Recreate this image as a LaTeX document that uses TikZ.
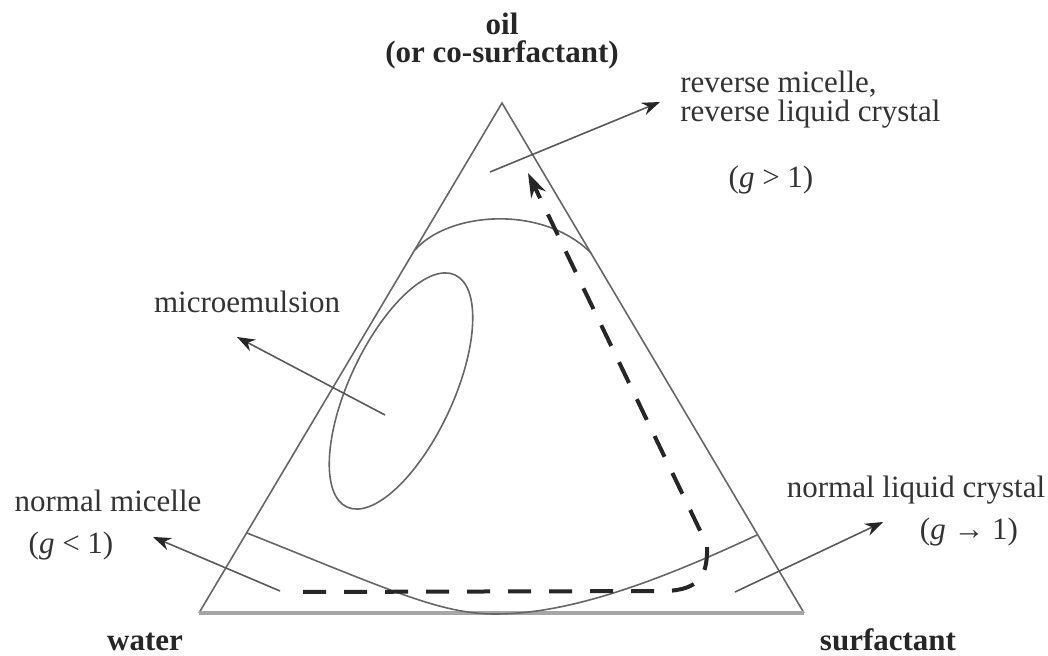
\documentclass[tikz,border=0pt]{standalone}
\usepackage{fontspec}
\setmainfont{Liberation Serif}
\usetikzlibrary{arrows.meta,positioning}

\begin{document}
\begin{tikzpicture}[
    x=0.5pt, y=-0.5pt,
    edge/.style={draw=black!60, line width=0.8pt},
    baseedge/.style={draw=black!35, line width=2pt},
    arrow/.style={-{Stealth[length=9pt,width=6.5pt,color=black!85]}, draw=black!65, line width=0.8pt},
    dasharrow/.style={-{Stealth[length=12pt,width=8pt]}, line width=2pt, dash pattern=on 11.5pt off 9pt, draw=black!85},
    txt/.style={font=\fontsize{15.5}{18}\selectfont, text=black!80, inner sep=0pt},
    corner/.style={font=\bfseries\fontsize{15.5}{18}\selectfont, text=black!85, inner sep=0pt},
]
\useasboundingbox (0,0) rectangle (1048,656);

% === TRIANGLE ===
\coordinate (O) at (502,103);
\coordinate (W) at (199,613);
\coordinate (S) at (804,613);
\draw[edge] (W) -- (O) -- (S);
\draw[baseedge] (W) -- (S);

% === PHASE BOUNDARIES ===
\draw[edge] (415,250) .. controls (448,212) and (542,204) .. (591,253);
\draw[edge] (247,533) .. controls (390,590) and (440,614) .. (495,614) .. controls (560,614) and (640,590) .. (757,535);
\draw[edge, rotate around={65:(401,391)}] (401,391) ellipse [x radius=64pt, y radius=26pt];

% === PATH ===
\coordinate (pstart) at (303,592);
\coordinate (ptip) at (528,173);
\draw[dasharrow] (pstart) -- (665,591) .. controls (700,590) and (708,575) .. (707,545) -- (ptip);

% === CORNERS ===
\node[corner, anchor=base] (oil) at (502,35) {oil};
\node[corner, anchor=base] (cosurf) at (502,63) {(or co-surfactant)};
\node[corner, anchor=base] (water) at (145,650) {water};
\node[corner, anchor=base] (surf) at (888,650) {surfactant};

% === REGIONS ===
\node[txt, anchor=base west] (rev1) at (680,93) {reverse micelle,};
\node[txt, anchor=base west] (rev2) at (680,122) {reverse liquid crystal};
\node[txt, anchor=base] (revg) at (771,188) {(\textit{g} > 1)};
\node[txt, anchor=base] (micro) at (247,313) {microemulsion};
\node[txt, anchor=base] (nm) at (108,512) {normal micelle};
\node[txt, anchor=base] (nmg) at (71,553) {(\textit{g} < 1)};
\node[txt, anchor=base] (nlc) at (916,498) {normal liquid crystal};
\node[txt, anchor=base] (nlcg) at (969,540) {(\textit{g} → 1)};

\coordinate (rm) at (490,172);
\coordinate (rmtip) at (660,102);
\coordinate (me) at (385,415);
\coordinate (metip) at (237,337);
\coordinate (nmc) at (280,591);
\coordinate (nmtip) at (153,537);
\coordinate (lc) at (735,592);
\coordinate (lctip) at (883,522);

\draw[arrow] (rm) -- (rmtip);
\draw[arrow] (me) -- (metip);
\draw[arrow] (nmc) -- (nmtip);
\draw[arrow] (lc) -- (lctip);

\end{tikzpicture}
\end{document}
